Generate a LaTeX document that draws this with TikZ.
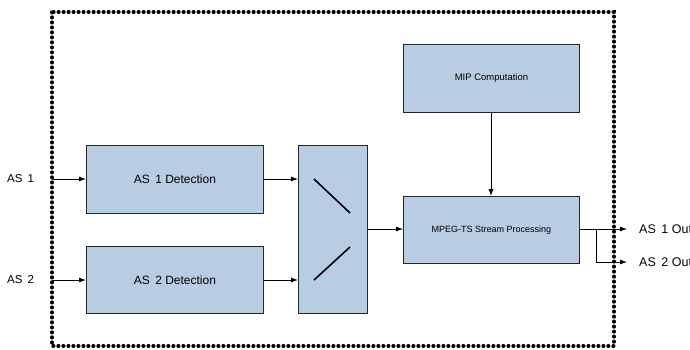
\documentclass[tikz,border=0pt]{standalone}
\usepackage{fontspec}
\setmainfont{Liberation Sans}
\usetikzlibrary{arrows.meta}
\definecolor{boxfill}{RGB}{184,204,228}
\begin{document}
\begin{tikzpicture}[x=1pt,y=-1pt,
  blk/.style={draw=black!85,line width=0.9pt,fill=boxfill,inner sep=0pt,anchor=north west},
  conn/.style={line width=0.8pt,-{Latex[length=7pt,width=5pt]}},
  lbl/.style={inner sep=0pt,font=\fontsize{11.5}{13}\selectfont},
  olbl/.style={inner sep=0pt,font=\fontsize{12.5}{14}\selectfont}]
\useasboundingbox (0,0) rectangle (690,349);
\clip (0,0) rectangle (690,349);
% border
\draw[line width=3.3pt,line cap=round,dash pattern=on 0.8pt off 4.2pt] (52,12) rectangle (614,346);
% blocks
\node[blk,minimum width=177pt,minimum height=68pt] (d1) at (86,145) {};
\node[font=\fontsize{12}{14}\selectfont] at (d1.center) {AS\, 1 Detection};
\node[blk,minimum width=177pt,minimum height=67pt] (d2) at (86,246) {};
\node[font=\fontsize{12}{14}\selectfont] at (d2.center) {AS\, 2 Detection};
\node[blk,minimum width=69pt,minimum height=168pt] (sw) at (298,145) {};
\node[blk,minimum width=176pt,minimum height=68pt] (mip) at (403,44) {};
\node[font=\fontsize{9.5}{11}\selectfont] at (mip.center) {MIP Computation};
\node[blk,minimum width=176pt,minimum height=67pt] (mp) at (403,196) {};
\node[font=\fontsize{9}{11}\selectfont] at (mp.center) {MPEG-TS Stream Processing};
% switch slashes
\coordinate (s1a) at (314,179); \coordinate (s1b) at (350,213);
\coordinate (s2a) at (314,280); \coordinate (s2b) at (350,247);
\draw[line width=1.6pt] (s1a) -- (s1b);
\draw[line width=1.6pt] (s2a) -- (s2b);
% inputs
\node[lbl,anchor=west] (in1) at (7,179) {AS\, 1};
\node[lbl,anchor=west] (in2) at (7,280) {AS\, 2};
\coordinate (b1) at (52,179);
\coordinate (b2) at (52,280);
\draw[conn] (b1) -- (d1.west |- b1);
\draw[conn] (b2) -- (d2.west |- b2);
\draw[conn] (d1.east |- b1) -- (sw.west |- b1);
\draw[conn] (d2.east |- b2) -- (sw.west |- b2);
\coordinate (m) at (367,229);
\draw[conn] (sw.east |- m) -- (mp.west |- m);
\draw[conn] (mip.south -| 491,0) -- (mp.north -| 491,0);
% outputs
\node[olbl,anchor=west] (o1) at (639,229) {AS\, 1 Out};
\node[olbl,anchor=west] (o2) at (639,262) {AS\, 2 Out};
\coordinate (br) at (596,229);
\coordinate (br2) at (596,262);
\draw[conn] (mp.east |- m) -- (627,229) coordinate (t1);
\draw[conn] (br) -- (br2) -- (627,262) coordinate (t2);
\end{tikzpicture}
\end{document}
